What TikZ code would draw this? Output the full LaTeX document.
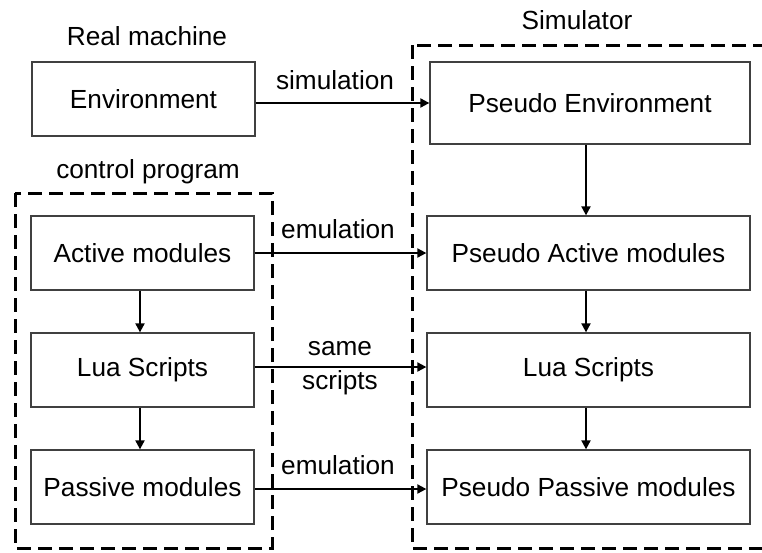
\documentclass[tikz,border=0pt]{standalone}
\usepackage{fontspec}
\setmainfont{Liberation Sans}
\usetikzlibrary{arrows.meta}
\begin{document}
\begin{tikzpicture}[x=1pt,y=-1pt,
  box/.style={draw=black!75, line width=1.3pt, inner sep=0pt, font=\fontsize{26.2}{30}\selectfont},
  lbl/.style={inner sep=0pt, font=\fontsize{26.2}{30}\selectfont},
  grp/.style={draw=black, line width=3pt, dash pattern=on 14pt off 7pt},
  arr/.style={line width=2pt, -{Triangle[length=9pt,width=9pt]}}]
\useasboundingbox (0,0) rectangle (762,552);
\clip (0,0) rectangle (762,552);
% group boxes
\draw[grp] (15,193) rectangle (272,548);
\draw[grp] (412,45) rectangle (790,548);
% left boxes
\node[box, minimum width=223pt, minimum height=74pt] (env) at (143.5,99) {Environment};
\node[box, minimum width=223pt, minimum height=74pt] (act) at (142.5,253) {Active modules};
\node[box, minimum width=223pt, minimum height=74pt] (lua) at (142.5,370) {Lua Scripts};
\node[box, minimum width=223pt, minimum height=74pt] (pas) at (142.5,487) {Passive modules};
% right boxes
\node[box, minimum width=320pt, minimum height=82pt] (penv) at (590,103) {Pseudo Environment};
\node[box, minimum width=323pt, minimum height=74pt] (pact) at (588.5,253) {Pseudo Active modules};
\node[box, minimum width=323pt, minimum height=74pt] (plua) at (588.5,370) {Lua Scripts};
\node[box, minimum width=323pt, minimum height=74pt] (ppas) at (588.5,487) {Pseudo Passive modules};
% titles
\node[lbl] (trm) at (147,36) {Real machine};
\node[lbl] (tcp) at (148,172) {control program};
\node[lbl] (tsim) at (577,20) {Simulator};
% horizontal arrows
\draw[arr] (env.east |- penv.west) -- (penv.west);
\draw[arr] (act.east) -- (pact.west);
\draw[arr] ([yshift=3pt]lua.east) -- ([yshift=3pt]plua.west);
\draw[arr] ([yshift=-2pt]pas.east) -- ([yshift=-2pt]ppas.west);
% arrow labels
\node[lbl] (l1) at (335,80) {simulation};
\node[lbl] (l2) at (338,229) {emulation};
\node[lbl] (l3) at (340,349) {same};
\node[lbl] (l4) at (340,383) {scripts};
\node[lbl] (l5) at (338,465) {emulation};
% vertical arrows
\draw[arr] ([xshift=-2.5pt]act.south) -- ([xshift=-2.5pt]lua.north);
\draw[arr] ([xshift=-2.5pt]lua.south) -- ([xshift=-2.5pt]pas.north);
\draw[arr] ([xshift=-4pt]penv.south) -- ([xshift=-2.5pt]pact.north);
\draw[arr] ([xshift=-2.5pt]pact.south) -- ([xshift=-2.5pt]plua.north);
\draw[arr] ([xshift=-2.5pt]plua.south) -- ([xshift=-2.5pt]ppas.north);
\end{tikzpicture}
\end{document}
